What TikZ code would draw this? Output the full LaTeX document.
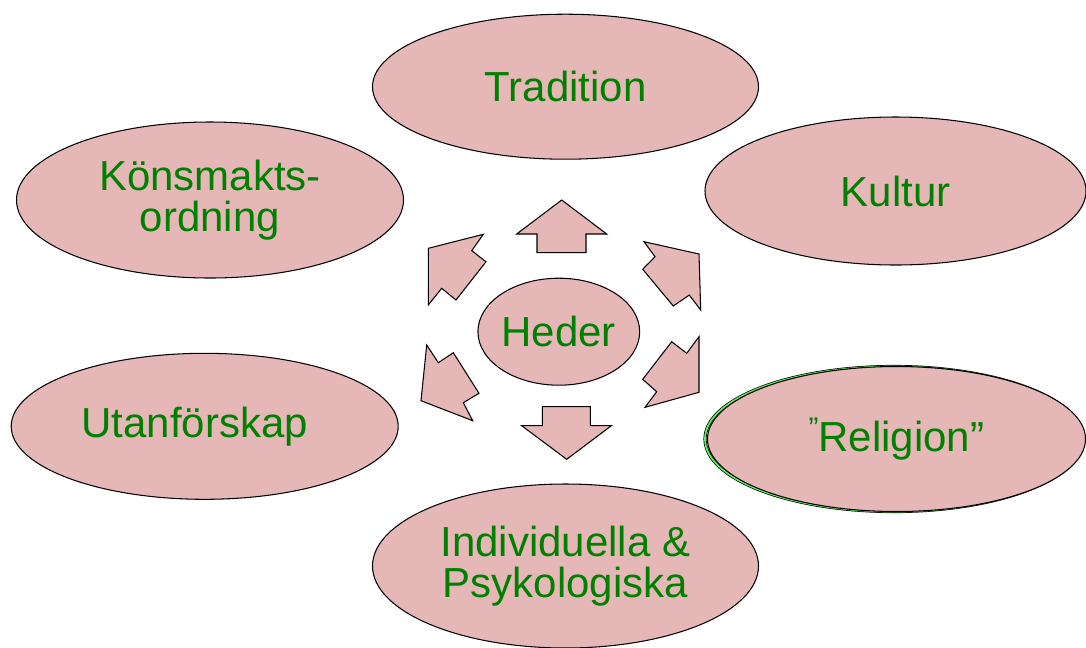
\documentclass[tikz,border=0pt]{standalone}
\usepackage{fontspec}
\setmainfont{Liberation Sans}
\usetikzlibrary{shapes.geometric}
\definecolor{rosefill}{HTML}{E5B8B7}
\definecolor{txtgreen}{HTML}{008000}
\definecolor{rimgreen}{HTML}{5CF05C}
\def\px{0.02cm}
\tikzset{
  theme/.style={ellipse, fill=rosefill, draw=black, line width=0.6pt, inner sep=0pt,
    text=txtgreen, align=center, font=\fontsize{23.9}{23.5}\selectfont},
  blockarrow/.style={fill=rosefill, draw=black, line width=0.6pt, line join=miter}
}

\begin{document}
\begin{tikzpicture}[x=0.02cm, y=-0.02cm]
\useasboundingbox (0,0) rectangle (1086,647);

% outer themes
\node[theme, minimum width=386*\px, minimum height=145*\px] (tradition) at (565.5,86.7) {Tradition};
\node[theme, minimum width=387*\px, minimum height=156*\px] (konsmakt) at (210,200) {Könsmakts-\\ordning};
\node[theme, minimum width=381*\px, minimum height=148*\px] (kultur) at (895.5,191) {Kultur};
\node[theme, minimum width=387*\px, minimum height=146*\px] (utanfor) at (204.7,426.3) {Utanförskap\hspace*{0.4cm}};
\node[ellipse, draw=black, double=rimgreen, double distance=1pt, line width=0.4pt,
  minimum width=378*\px, minimum height=145*\px] (religionrim) at (894,439) {};
\node[theme, minimum width=378*\px, minimum height=145*\px] (religion) at (896.5,439)
  {\raisebox{0.3em}{\fontsize{17}{17}\selectfont ”}Religion”};
\node[theme, minimum width=386*\px, minimum height=164*\px] (individ) at (565.5,566) {Individuella \&\\Psykologiska};

% centre
\node[theme, minimum width=161*\px, minimum height=107*\px] (heder) at (558.8,331.7) {Heder};

% block arrows round the centre
\draw[blockarrow] (561.7,200) -- (606.7,234) -- (586,234) -- (586,252.7)
  -- (537,252.7) -- (537,234) -- (516.7,234) -- cycle;
\draw[blockarrow] (542.3,406.7) -- (590.3,406.7) -- (590.3,425.7) -- (611.3,425.7)
  -- (566.7,459.3) -- (521.7,425.7) -- (542.3,425.7) -- cycle;
\draw[blockarrow] (428.3,248.3) -- (483.3,234.3) -- (471.7,250.7) -- (486,261.7)
  -- (456,300) -- (441.7,288.3) -- (428.3,305) -- cycle;
\draw[blockarrow] (699,254) -- (700.7,310) -- (689.3,295) -- (673.3,306)
  -- (642.7,269.3) -- (655,256.7) -- (644,241.7) -- cycle;
\draw[blockarrow] (699,392.3) -- (645,407.3) -- (656.7,391.7) -- (642.7,379.3)
  -- (671.7,341.7) -- (686.7,353.3) -- (699,336.7) -- cycle;
\draw[blockarrow] (421,400.7) -- (426.7,345) -- (438.3,362.7) -- (453.3,352.7)
  -- (479,393.3) -- (463.3,402.7) -- (472.7,420.7) -- cycle;
\end{tikzpicture}
\end{document}
